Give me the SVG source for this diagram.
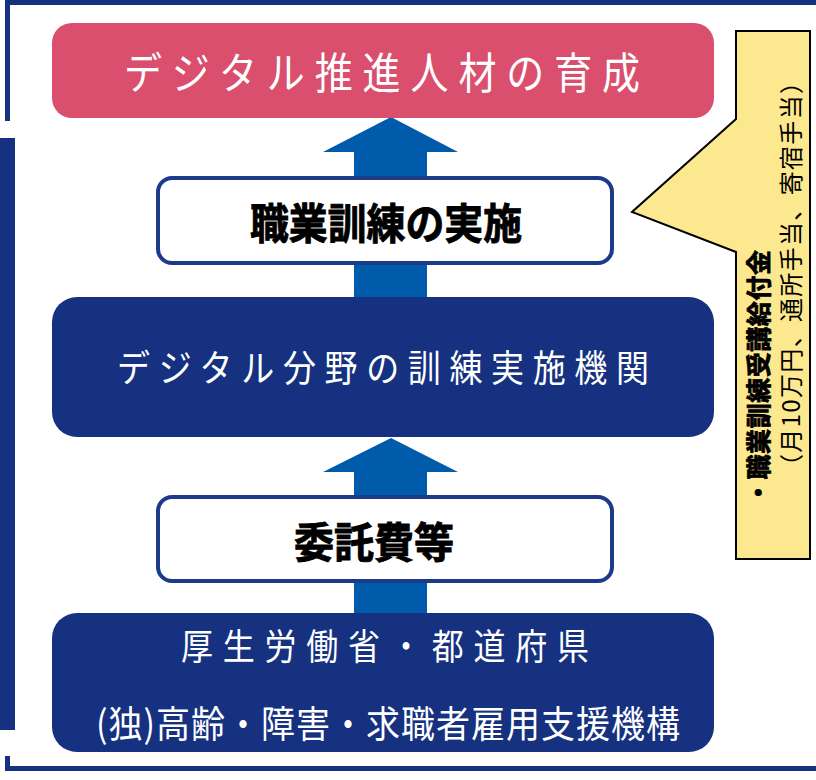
<svg xmlns="http://www.w3.org/2000/svg" width="816" height="780" viewBox="0 0 816 780">
  <style>
    .navy { fill: #15317F; }
    .t { font-family: "Noto Sans CJK JP", "Noto Sans", sans-serif; dominant-baseline: central; }
    .w { fill: #FFFFFF; }
    .k { fill: #000000; }
    .b { font-weight: bold; stroke: #000000; stroke-width: 0.8; }
    .wbox { fill: #FFFFFF; stroke: #1B3A8A; stroke-width: 4; }
    .arrow { fill: #005BAB; }
  </style>
  <rect width="816" height="780" fill="#FFFFFF"/>
  <g id="frame">
    <rect class="navy" x="5" y="0" width="811" height="5"/>
    <rect class="navy" x="5" y="0" width="5" height="121"/>
    <rect class="navy" x="0" y="138" width="15" height="592"/>
    <rect class="navy" x="5" y="756" width="5" height="15"/>
    <rect class="navy" x="5" y="766" width="811" height="5"/>
  </g>
  <g id="connectors">
    <polygon class="arrow" points="391,117 458,152 427,152 427,298 354,298 354,152 323,152"/>
    <polygon class="arrow" points="391,438 458,472 427,472 427,613 354,613 354,472 323,472"/>
  </g>
  <g id="goal">
    <rect x="52" y="23" width="662" height="95" rx="20" fill="#DA4F6E"/>
    <text class="t w" transform="matrix(1 0 0 1.15 0 70)" x="124" y="0" font-size="38" textLength="516" lengthAdjust="spacing">デジタル推進人材の育成</text>
  </g>
  <g id="training">
    <rect class="wbox" x="158" y="178" width="454" height="85" rx="14"/>
    <text class="t k b" transform="matrix(1 0 0 1.12 0 221)" x="250" y="0" font-size="38" textLength="272" lengthAdjust="spacingAndGlyphs">職業訓練の実施</text>
  </g>
  <g id="institution">
    <rect class="navy" x="52" y="297" width="662" height="140" rx="25"/>
    <text class="t w" transform="matrix(1 0 0 1.13 0 366)" x="117" y="0" font-size="33" textLength="532" lengthAdjust="spacing">デジタル分野の訓練実施機関</text>
  </g>
  <g id="fee">
    <rect class="wbox" x="158" y="497" width="454" height="84" rx="14"/>
    <text class="t k b" transform="matrix(1 0 0 1.12 0 540)" x="294" y="0" font-size="38" textLength="160" lengthAdjust="spacingAndGlyphs">委託費等</text>
  </g>
  <g id="ministry">
    <rect class="navy" x="52" y="613" width="662" height="139" rx="25"/>
    <text class="t w" transform="matrix(1 0 0 1.13 0 644)" x="181" y="0" font-size="32" textLength="408" lengthAdjust="spacing">厚生労働省・都道府県</text>
    <text class="t w" transform="matrix(1 0 0 1.1 0 722)" x="96" y="0" font-size="34" textLength="584" lengthAdjust="spacing">(独)高齢・障害・求職者雇用支援機構</text>
  </g>
  <g id="callout">
    <polygon points="736,31 810,31 810,559 736,559 736,252 632,212 736,119" fill="#FCE88F" stroke="#000000" stroke-width="2"/>
    <text class="t k b" transform="translate(757,505) rotate(-90)" font-size="25" stroke-width="0.5" textLength="255" lengthAdjust="spacing">・職業訓練受講給付金</text>
    <text class="t k" transform="translate(789,478) rotate(-90)" font-size="24" textLength="408" lengthAdjust="spacing">（月10万円、通所手当、寄宿手当）</text>
  </g>
</svg>
